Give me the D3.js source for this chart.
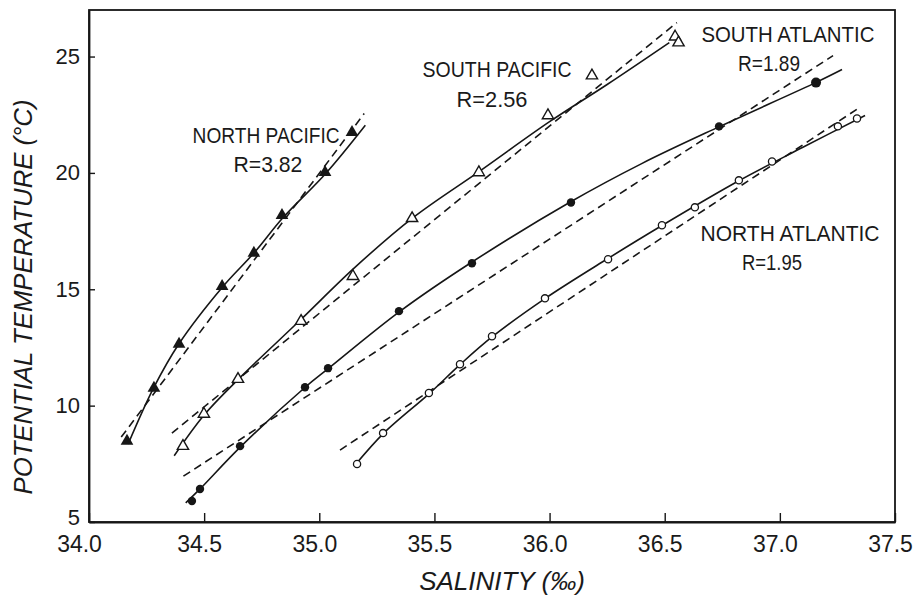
<!DOCTYPE html>
<html><head><meta charset="utf-8">
<script src="https://cdn.jsdelivr.net/npm/d3@7"></script>
<style>
html,body{margin:0;padding:0;background:#fff;}
svg text{font-family:"Liberation Sans","Arial",sans-serif;fill:#1a1a1a;}
</style></head>
<body><svg id="c" width="914" height="597"></svg>
<script>
// ---- data (salinity ‰, potential temperature °C) ----
const xTicks = [34.0, 34.5, 35.0, 35.5, 36.0, 36.5, 37.0, 37.5];
const yTicks = [5, 10, 15, 20, 25];

const northPacificS = [34.165,34.282,34.391,34.578,34.716,34.838,35.025,35.142];
const northPacificT = [8.48,10.75,12.64,15.13,16.55,18.18,20.02,21.74];

const southPacificS = [34.408,34.499,34.647,34.921,35.146,35.403,35.693,35.993,36.184,36.545,36.56];
const southPacificT = [8.26,9.64,11.14,13.63,15.56,18.05,20.02,22.47,24.18,25.85,25.6];

const southAtlanticS = [34.447,34.482,34.656,34.938,35.038,35.346,35.663,36.093,36.736,37.157];
const southAtlanticT = [5.90,6.42,8.26,10.79,11.61,14.06,16.12,18.73,22.0,23.88];

const northAtlanticS = [35.164,35.277,35.476,35.611,35.75,35.98,36.254,36.488,36.631,36.822,36.966,37.252,37.335];
const northAtlanticT = [7.49,8.82,10.54,11.78,12.98,14.61,16.29,17.75,18.52,19.68,20.49,22.0,22.34];

// fitted curves (solid)
const npCurveS = [34.17,34.28,34.39,34.58,34.72,34.84,35.03,35.20];
const npCurveT = [8.35,10.75,12.65,15.1,16.6,18.05,20.0,22.05];
const spCurveS = [34.37,34.50,34.65,34.92,35.15,35.41,35.70,36.00,36.25,36.52];
const spCurveT = [7.85,9.6,11.15,13.7,15.9,18.1,20.1,22.2,23.8,25.6];
const saCurveS = [34.42,34.48,34.66,34.94,35.04,35.35,35.66,36.09,36.40,36.74,37.16,37.27];
const saCurveT = [5.82,6.4,8.25,10.8,11.6,14.05,16.15,18.75,20.4,22.0,23.9,24.44];
const naCurveS = [35.16,35.28,35.48,35.61,35.75,35.98,36.25,36.49,36.82,37.10,37.37];
const naCurveT = [7.5,8.82,10.54,11.75,12.95,14.6,16.3,17.75,19.65,21.1,22.47];

// straight reference lines (dashed): endpoints
const npLineS = [34.14,35.195]; const npLineT = [8.65,22.55];
const spLineS = [34.36,36.553]; const spLineT = [8.82,26.46];
const saLineS = [34.41,37.231]; const saLineT = [6.97,25.04];
const naLineS = [35.09,37.352]; const naLineT = [8.09,22.85];

const labelNames = ["NORTH PACIFIC","SOUTH PACIFIC","SOUTH ATLANTIC","NORTH ATLANTIC"];
const labelR = ["R=3.82","R=2.56","R=1.89","R=1.95"];
const labelS = [34.769,35.772,37.035,37.044];
const labelT = [21.27,24.14,25.64,17.06];
const rS = [34.777,35.75,36.953,36.966];
const rT = [20.06,22.85,24.36,15.82];

const xTitle = "SALINITY (‰)";
const yTitle = "POTENTIAL TEMPERATURE (°C)";

// ---- drawing ----
const svg = d3.select("#c");
const W = 914, H = 597;
const m = {left:89, right:W-895, top:10, bottom:H-522};
const x = d3.scaleLinear().domain([34.0,37.5]).range([m.left, W-m.right]);
const y = d3.scaleLinear().domain([5,27]).range([H-m.bottom, m.top]);
const ink = "#161616";

// frame
svg.append("rect").attr("x",x(34)).attr("y",y(27)).attr("width",x(37.5)-x(34)).attr("height",y(5)-y(27))
  .attr("fill","none").attr("stroke",ink).attr("stroke-width",1.8);

const xAxis = svg.append("g").attr("transform",`translate(0,${y(5)})`)
  .call(d3.axisBottom(x).tickValues(xTicks).tickFormat(d3.format(".1f")).tickSizeInner(-9).tickSizeOuter(0).tickPadding(14));
xAxis.select(".domain").attr("stroke",ink).attr("stroke-width",1.8);
xAxis.selectAll(".tick line").attr("stroke",ink).attr("stroke-width",1.4);
xAxis.selectAll(".tick text").attr("font-size",23).attr("font-family","Liberation Sans, Arial, sans-serif")
  .attr("fill","#1a1a1a").attr("dx",(d)=> d===34 ? -10 : -5);

const yAxis = svg.append("g").attr("transform",`translate(${x(34)},0)`)
  .call(d3.axisLeft(y).tickValues(yTicks).tickSizeInner(-6).tickSizeOuter(0).tickPadding(9));
yAxis.select(".domain").attr("stroke",ink).attr("stroke-width",1.8);
yAxis.selectAll(".tick line").attr("stroke",ink).attr("stroke-width",1.4);
yAxis.selectAll(".tick text").attr("font-size",22).attr("font-family","Liberation Sans, Arial, sans-serif").attr("fill","#1a1a1a")
  .attr("dy",(d)=> d===5 ? "0.12em" : "0.32em");

// axis titles
svg.append("text").attr("x",(x(34)+x(37.5))/2+10).attr("y",590).attr("text-anchor","middle")
  .attr("font-size",26).attr("font-style","italic").text(xTitle);
svg.append("text").attr("transform",`translate(32,297) rotate(-90)`).attr("text-anchor","middle")
  .attr("font-size",25).attr("font-style","italic").attr("textLength",395).attr("lengthAdjust","spacingAndGlyphs").text(yTitle);

const zip = (a,b) => a.map((v,i)=>[v,b[i]]);
const line = d3.line().x(d=>x(d[0])).y(d=>y(d[1]));
const curve = d3.line().x(d=>x(d[0])).y(d=>y(d[1])).curve(d3.curveCatmullRom.alpha(0.5));

const fits = [
  [npCurveS,npCurveT,npLineS,npLineT],
  [spCurveS,spCurveT,spLineS,spLineT],
  [saCurveS,saCurveT,saLineS,saLineT],
  [naCurveS,naCurveT,naLineS,naLineT]
];
fits.forEach(f=>{
  svg.append("path").attr("d",line(zip(f[2],f[3]))).attr("fill","none").attr("stroke",ink)
    .attr("stroke-width",1.6).attr("stroke-dasharray","8,5");
  svg.append("path").attr("d",curve(zip(f[0],f[1]))).attr("fill","none").attr("stroke",ink).attr("stroke-width",1.6);
});

// markers
const tri = d3.symbol().type(d3.symbolTriangle);
svg.append("g").selectAll("path").data(zip(northPacificS,northPacificT)).join("path")
  .attr("transform",d=>`translate(${x(d[0])},${y(d[1])})`).attr("d",tri.size(70)).attr("fill",ink);
svg.append("g").selectAll("path").data(zip(southPacificS,southPacificT)).join("path")
  .attr("transform",d=>`translate(${x(d[0])},${y(d[1])})`).attr("d",tri.size(55)).attr("fill","#fff")
  .attr("stroke",ink).attr("stroke-width",1.4);
svg.append("g").selectAll("circle").data(zip(southAtlanticS,southAtlanticT)).join("circle")
  .attr("cx",d=>x(d[0])).attr("cy",d=>y(d[1])).attr("r",(d,i)=> i===southAtlanticS.length-1 ? 5 : 4.2).attr("fill",ink);
svg.append("g").selectAll("circle").data(zip(northAtlanticS,northAtlanticT)).join("circle")
  .attr("cx",d=>x(d[0])).attr("cy",d=>y(d[1])).attr("r",3.6).attr("fill","#fff")
  .attr("stroke",ink).attr("stroke-width",1.3);

// labels
const nameW = [147,149,173,179];
const rW = [69,71,62,60];
labelNames.forEach((n,i)=>{
  svg.append("text").attr("x",x(labelS[i])).attr("y",y(labelT[i])).attr("text-anchor","middle")
    .attr("font-size",22).attr("textLength",nameW[i]).attr("lengthAdjust","spacingAndGlyphs").text(n);
  svg.append("text").attr("x",x(rS[i])).attr("y",y(rT[i])).attr("text-anchor","middle")
    .attr("font-size",22).attr("textLength",rW[i]).attr("lengthAdjust","spacingAndGlyphs").text(labelR[i]);
});
</script></body></html>
